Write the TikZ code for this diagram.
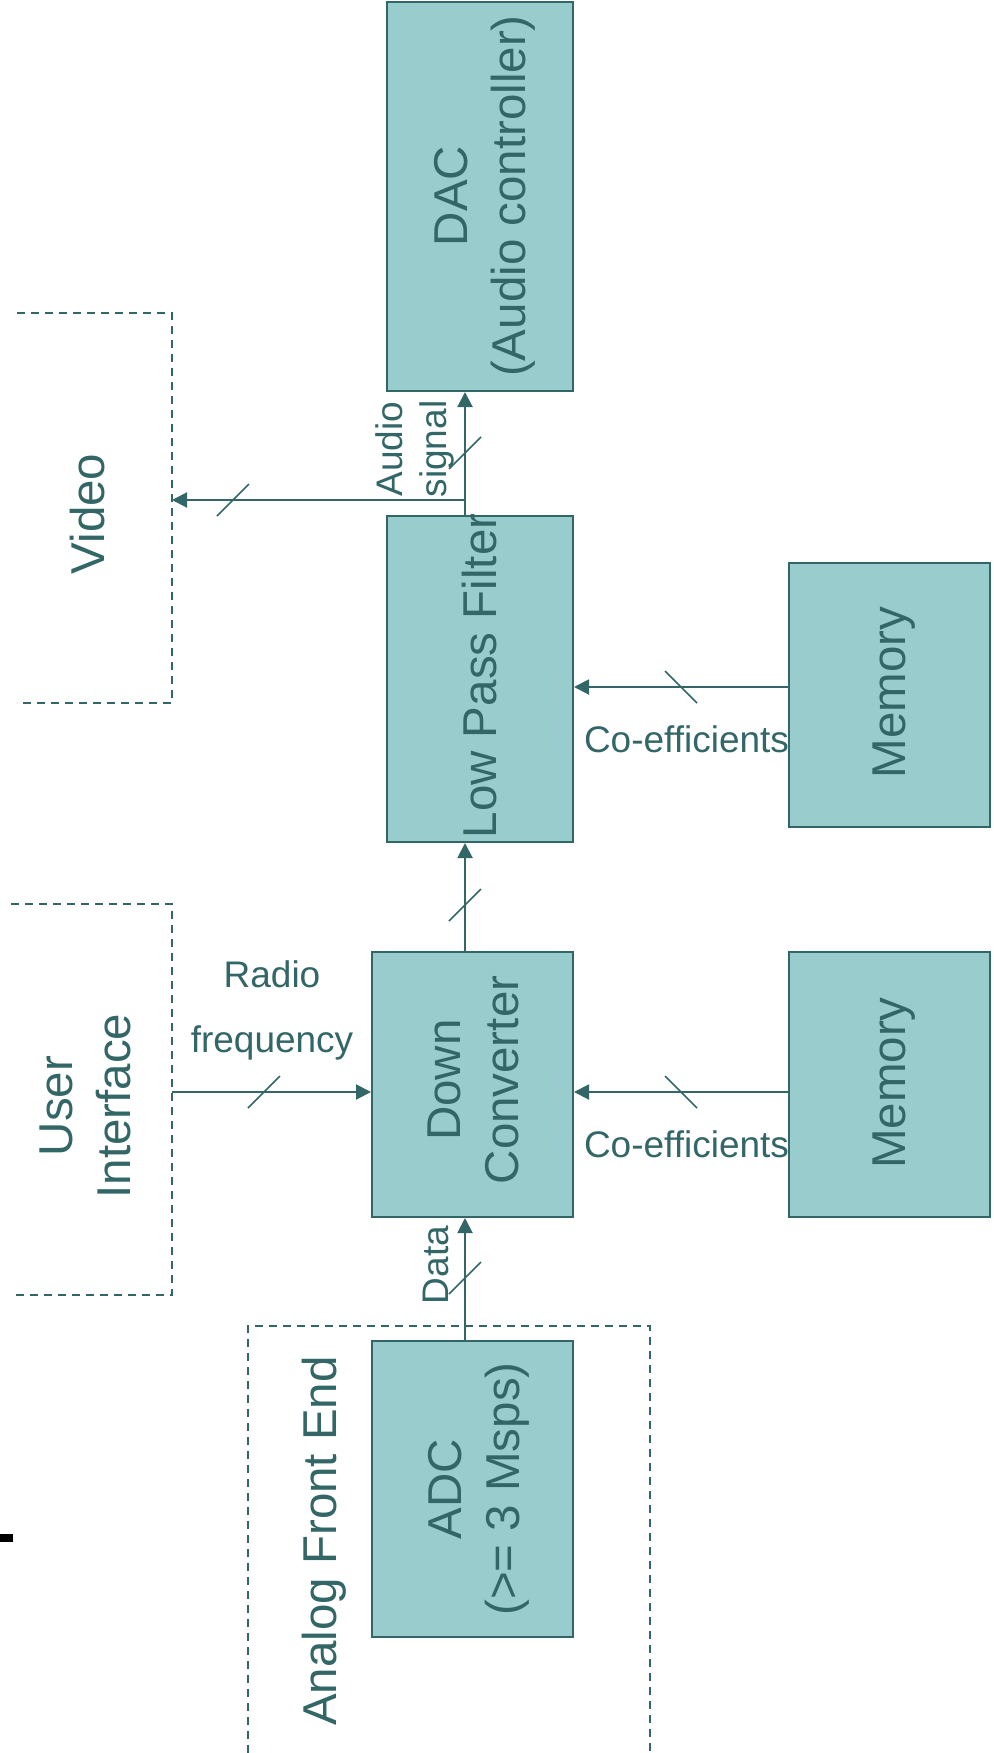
\documentclass[tikz,border=0pt]{standalone}
\usepackage{fontspec}
\setmainfont{Liberation Sans}
\usetikzlibrary{arrows.meta}
\usetikzlibrary{positioning}

\definecolor{tealfill}{HTML}{99CCCC}
\definecolor{tealline}{HTML}{336666}

\tikzset{
  block/.style={draw=tealline, fill=tealfill, line width=2pt, inner sep=0pt},
  bigtext/.style={text=tealline, rotate=90, inner sep=0pt, align=center,
    font=\fontsize{47.5}{58}\selectfont},
  smalltext/.style={text=tealline, inner sep=0pt, align=center,
    font=\fontsize{37}{44}\selectfont},
  arr/.style={draw=tealline, line width=2pt, -{Triangle[length=15pt,width=15pt]}},
  busmark/.style={draw=tealline, line width=1.6pt},
  groupbox/.style={draw=tealline, line width=1.6pt, dash pattern=on 8pt off 6pt},
  area/.style={inner sep=0pt, outer sep=0pt},
}

\begin{document}
\begin{tikzpicture}[x=1pt, y=-1pt]

\newcommand{\slashA}{16}  % 斜线半长

\useasboundingbox (0,0) rectangle (993,1753);

% 方框
\node[block, minimum width=186pt, minimum height=389pt] (dac) at (480,196.5) {};
\node[block, minimum width=186pt, minimum height=326pt] (lpf) at (480,679) {};
\node[block, minimum width=201pt, minimum height=264pt] (mem1) at (889.5,695) {};
\node[block, minimum width=201pt, minimum height=265pt] (dc) at (472.5,1084.5) {};
\node[block, minimum width=201pt, minimum height=265pt] (mem2) at (889.5,1084.5) {};
\node[block, minimum width=201pt, minimum height=296pt] (adc) at (472.5,1489) {};

% 虚线区域
\node[area, minimum width=155pt, minimum height=390pt] (video) at (94.5,508) {};
\node[area, minimum width=161pt, minimum height=391pt] (ui) at (91.5,1099.5) {};
\node[area, minimum width=402pt, minimum height=427pt] (afe) at (449,1539.5) {};

\draw[groupbox] (video.north west) -- (video.north east) -- (video.south east) -- (video.south west);
\draw[groupbox] (ui.north west) -- (ui.north east) -- (ui.south east) -- (ui.south west);
\draw[groupbox] (afe.south west) -- (afe.north west) -- (afe.north east) -- (afe.south east);

\fill[black] (0,1534) rectangle (13,1542);

% 文字
\node[bigtext] (dactext) at (485,196) {DAC\\(Audio controller)};
\node[bigtext] (lpftext) at (480,676) {Low Pass Filter};
\node[bigtext] (mem1text) at (894,692.5) {Memory};
\node[bigtext] (dctext) at (473.5,1080) {Down\\Converter};
\node[bigtext] (mem2text) at (894,1083) {Memory};
\node[bigtext] (adctext) at (478.5,1489) {ADC\\(>= 3 Msps)};
\node[bigtext] (uitext) at (85,1106) {User\\Interface};
\node[bigtext] (videotext) at (87.5,514) {Video};
\node[bigtext] (afetext) at (324.5,1541) {Analog Front End};

\node[smalltext, rotate=90] (audiolbl) at (415,449) {Audio\\signal};
\node[smalltext, rotate=90] (datalbl) at (436,1265) {Data};
\node[smalltext] (coef1) at (686.5,739) {Co-efficients};
\node[smalltext] (coef2) at (686.5,1144) {Co-efficients};
\node[smalltext, font=\fontsize{37}{65}\selectfont] (rflbl) at (272,1010) {Radio\\frequency};

% 连线
\coordinate (spine) at (465,0);
\coordinate (tap) at (465,500);
\coordinate (coefA) at (0,687);
\coordinate (rfrow) at (0,1092);

\draw[arr] (adc.north -| spine) -- (dc.south -| spine);
\draw[arr] (dc.north -| spine) -- (lpf.south -| spine);
\draw[arr] (lpf.north -| spine) -- (dac.south -| spine);
\draw[arr] (tap) -- (tap -| video.east);
\draw[arr] (mem1.west |- coefA) -- (lpf.east |- coefA);
\draw[arr] (mem2.west |- rfrow) -- (dc.east |- rfrow);
\draw[arr] (ui.east |- rfrow) -- (dc.west |- rfrow);

% 总线斜线
\coordinate (S1) at (465,1278);
\coordinate (S2) at (465,905);
\coordinate (S3) at (465,453);
\coordinate (S4) at (233,500);
\coordinate (S5) at (264,1092);
\coordinate (S6) at (681,687);
\coordinate (S7) at (681,1092);

\draw[busmark] ([shift={(-\slashA,\slashA)}]S1) -- ([shift={(\slashA,-\slashA)}]S1);
\draw[busmark] ([shift={(-\slashA,\slashA)}]S2) -- ([shift={(\slashA,-\slashA)}]S2);
\draw[busmark] ([shift={(-\slashA,\slashA)}]S3) -- ([shift={(\slashA,-\slashA)}]S3);
\draw[busmark] ([shift={(-\slashA,\slashA)}]S4) -- ([shift={(\slashA,-\slashA)}]S4);
\draw[busmark] ([shift={(-\slashA,\slashA)}]S5) -- ([shift={(\slashA,-\slashA)}]S5);
\draw[busmark] ([shift={(-\slashA,-\slashA)}]S6) -- ([shift={(\slashA,\slashA)}]S6);
\draw[busmark] ([shift={(-\slashA,-\slashA)}]S7) -- ([shift={(\slashA,\slashA)}]S7);

\end{tikzpicture}
\end{document}
